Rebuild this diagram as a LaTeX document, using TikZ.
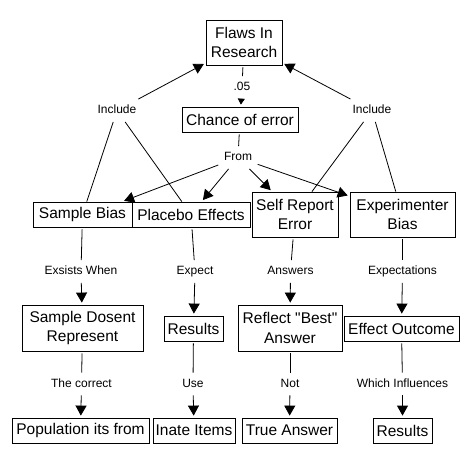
\documentclass[tikz,border=0pt]{standalone}
\usepackage{fontspec}
\setmainfont{Liberation Sans}[Ligatures=TeXOff]
\usetikzlibrary{arrows.meta}
\newcommand\boxfont{\fontsize{15.5}{19.5}\selectfont}
\newcommand\labfont{\fontsize{12}{14}\selectfont}
\begin{document}
\begin{tikzpicture}[x=1pt,y=-1pt,
  box/.style={draw, line width=0.8pt, inner sep=0pt, align=center, font=\boxfont},
  lab/.style={inner sep=5.5pt, font=\labfont, text height=9pt, text depth=2.5pt},
  ln/.style={line width=0.8pt, shorten <=2pt},
  arr/.style={line width=0.8pt, -{Triangle[length=10pt,width=11pt]}, shorten >=2pt},
  sarr/.style={line width=0.8pt, -{Triangle[length=6pt,width=7pt]}, shorten >=2pt}]
\path[use as bounding box, fill=white] (0,0) rectangle (474,463);
% boxes
\node[box, minimum width=76, minimum height=45] (flaws) at (244,42.5) {Flaws In\\Research};
\node[box, minimum width=116, minimum height=25] (chance) at (240,119.5) {Chance of error};
\node[box, minimum width=99, minimum height=25] (sb) at (82.5,214.5) {Sample Bias};
\node[box, minimum width=118, minimum height=25] (pe) at (191,214.5) {Placebo Effects};
\node[box, minimum width=86, minimum height=45] (sr) at (295,214.5) {Self Report\\Error};
\node[box, minimum width=105, minimum height=45] (eb) at (402.5,214.5) {Experimenter\\Bias};
\node[box, minimum width=121, minimum height=46] (sdr) at (82.5,328) {Sample Dosent\\Represent};
\node[box, minimum width=59, minimum height=25] (res1) at (193.5,328.5) {Results};
\node[box, minimum width=104, minimum height=46] (rb) at (290,328) {Reflect "Best"\\Answer};
\node[box, minimum width=115, minimum height=25] (eo) at (401.5,328.5) {Effect Outcome};
\node[box, minimum width=137, minimum height=25] (pop) at (80.5,430.5) {Population its from};
\node[box, minimum width=82, minimum height=25] (ii) at (194,430.5) {Inate Items};
\node[box, minimum width=95, minimum height=25] (ta) at (289.5,430.5) {True Answer};
\node[box, minimum width=59, minimum height=25] (res2) at (402.5,430.5) {Results};
% labels
\node[lab] (l05) at (242,87.5) {.05};
\node[lab] (incl) at (117,110.5) {Include};
\node[lab] (incr) at (372,110.5) {Include};
\node[lab] (from) at (238,157.5) {From};
\node[lab] (lw1) at (81,271.5) {Exsists When};
\node[lab] (lw2) at (195,271.5) {Expect};
\node[lab] (lw3) at (290.5,271.5) {Answers};
\node[lab] (lw4) at (402.5,271.5) {Expectations};
\node[lab] (lv1) at (81.5,384) {The correct};
\node[lab] (lv2) at (193,384) {Use};
\node[lab] (lv3) at (290,384) {Not};
\node[lab] (lv4) at (402.5,384) {Which Influences};
% connectors
\draw[ln] (flaws) -- (l05);
\draw[sarr] (l05) -- (chance);
\draw[arr] (incl) -- (flaws);
\draw[arr] (incr) -- (flaws);
\draw[line width=0.8pt] (incl) -- (sb);
\draw[line width=0.8pt] (incl) -- (pe);
\draw[line width=0.8pt] (incr) -- (sr);
\draw[line width=0.8pt] (incr) -- (eb);
\draw[ln] (chance) -- (from);
\draw[arr] (from) -- (sb.18);
\draw[arr] (from) -- (pe);
\draw[arr] (from) -- (sr);
\draw[arr] (from) -- (eb);
\draw[ln] (sb) -- (lw1);  \draw[arr] (lw1) -- (sdr);
\draw[ln] (pe) -- (lw2);  \draw[arr] (lw2) -- (res1);
\draw[ln] (sr) -- (lw3);  \draw[arr] (lw3) -- (rb);
\draw[ln] (eb) -- (lw4);  \draw[arr] (lw4) -- (eo);
\draw[ln] (sdr) -- (lv1); \draw[arr] (lv1) -- (pop);
\draw[ln] (res1) -- (lv2); \draw[arr] (lv2) -- (ii);
\draw[ln] (rb) -- (lv3);  \draw[arr] (lv3) -- (ta);
\draw[ln] (eo) -- (lv4);  \draw[arr] (lv4) -- (res2);
\end{tikzpicture}
\end{document}
